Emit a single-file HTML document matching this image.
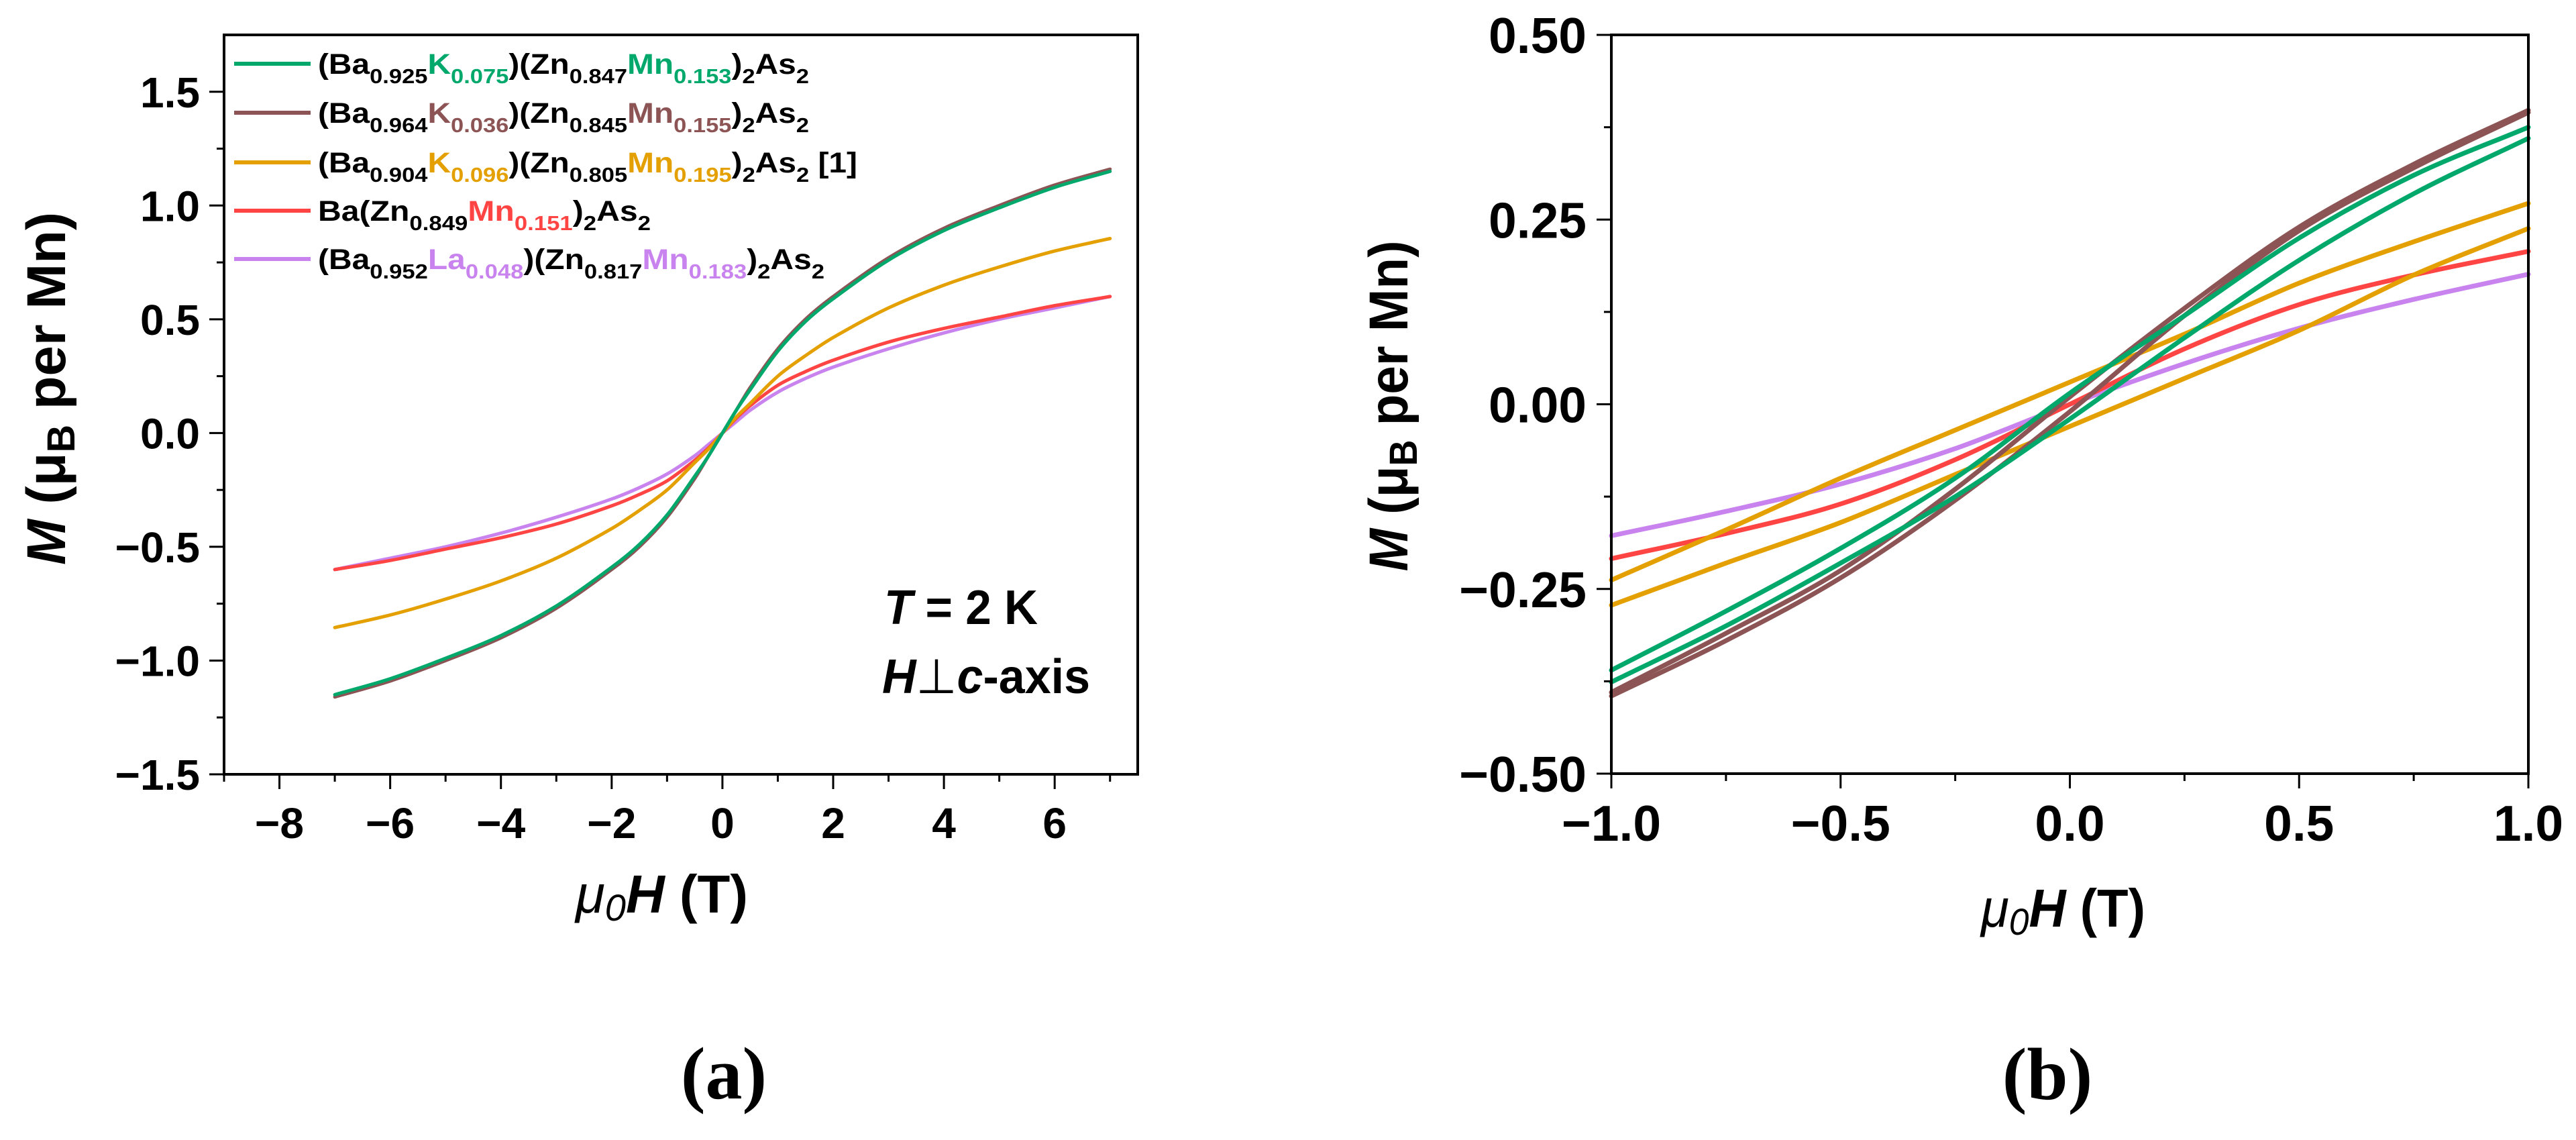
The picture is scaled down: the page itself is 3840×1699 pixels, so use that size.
<!DOCTYPE html>
<html><head><meta charset="utf-8"><style>
html,body{margin:0;padding:0;background:#fff;}
svg{display:block;}
text{font-family:"Liberation Sans",Arial,sans-serif;font-weight:bold;fill:#000;}
.serif{font-family:"Liberation Serif","Times New Roman",serif;}
</style></head><body>
<svg id="fig" width="3840" height="1699" viewBox="0 0 3840 1699" xmlns="http://www.w3.org/2000/svg">
<rect width="3840" height="1699" fill="#fff"/>
<g id="pa"></g>
<g id="pb"></g>

<g font-size="43">
  <line x1="349" y1="95" x2="463" y2="95" stroke="#00a86b" stroke-width="6"/>
  <text x="474" y="110" textLength="732" lengthAdjust="spacingAndGlyphs">(Ba<tspan font-size="31" dy="14">0.925</tspan><tspan dy="-14" fill="#00a86b">K</tspan><tspan font-size="31" dy="14" fill="#00a86b">0.075</tspan><tspan dy="-14">)(Zn</tspan><tspan font-size="31" dy="14">0.847</tspan><tspan dy="-14" fill="#00a86b">Mn</tspan><tspan font-size="31" dy="14" fill="#00a86b">0.153</tspan><tspan dy="-14">)</tspan><tspan font-size="31" dy="14">2</tspan><tspan dy="-14">As</tspan><tspan font-size="31" dy="14">2</tspan></text>
  <line x1="349" y1="168" x2="463" y2="168" stroke="#8c5454" stroke-width="6"/>
  <text x="474" y="183" textLength="732" lengthAdjust="spacingAndGlyphs">(Ba<tspan font-size="31" dy="14">0.964</tspan><tspan dy="-14" fill="#8c5454">K</tspan><tspan font-size="31" dy="14" fill="#8c5454">0.036</tspan><tspan dy="-14">)(Zn</tspan><tspan font-size="31" dy="14">0.845</tspan><tspan dy="-14" fill="#8c5454">Mn</tspan><tspan font-size="31" dy="14" fill="#8c5454">0.155</tspan><tspan dy="-14">)</tspan><tspan font-size="31" dy="14">2</tspan><tspan dy="-14">As</tspan><tspan font-size="31" dy="14">2</tspan></text>
  <line x1="349" y1="242" x2="463" y2="242" stroke="#e3a000" stroke-width="6"/>
  <text x="474" y="257" textLength="804" lengthAdjust="spacingAndGlyphs">(Ba<tspan font-size="31" dy="14">0.904</tspan><tspan dy="-14" fill="#e3a000">K</tspan><tspan font-size="31" dy="14" fill="#e3a000">0.096</tspan><tspan dy="-14">)(Zn</tspan><tspan font-size="31" dy="14">0.805</tspan><tspan dy="-14" fill="#e3a000">Mn</tspan><tspan font-size="31" dy="14" fill="#e3a000">0.195</tspan><tspan dy="-14">)</tspan><tspan font-size="31" dy="14">2</tspan><tspan dy="-14">As</tspan><tspan font-size="31" dy="14">2</tspan><tspan dy="-14"> [1]</tspan></text>
  <line x1="349" y1="314" x2="463" y2="314" stroke="#ff4444" stroke-width="6"/>
  <text x="474" y="329" textLength="496" lengthAdjust="spacingAndGlyphs">Ba(Zn<tspan font-size="31" dy="14">0.849</tspan><tspan dy="-14" fill="#ff4444">Mn</tspan><tspan font-size="31" dy="14" fill="#ff4444">0.151</tspan><tspan dy="-14">)</tspan><tspan font-size="31" dy="14">2</tspan><tspan dy="-14">As</tspan><tspan font-size="31" dy="14">2</tspan></text>
  <line x1="349" y1="386" x2="463" y2="386" stroke="#c883ee" stroke-width="6"/>
  <text x="474" y="401" textLength="755" lengthAdjust="spacingAndGlyphs">(Ba<tspan font-size="31" dy="14">0.952</tspan><tspan dy="-14" fill="#c883ee">La</tspan><tspan font-size="31" dy="14" fill="#c883ee">0.048</tspan><tspan dy="-14">)(Zn</tspan><tspan font-size="31" dy="14">0.817</tspan><tspan dy="-14" fill="#c883ee">Mn</tspan><tspan font-size="31" dy="14" fill="#c883ee">0.183</tspan><tspan dy="-14">)</tspan><tspan font-size="31" dy="14">2</tspan><tspan dy="-14">As</tspan><tspan font-size="31" dy="14">2</tspan></text>
</g>

<text x="1318" y="930" font-size="72" textLength="229" lengthAdjust="spacingAndGlyphs"><tspan font-style="italic">T</tspan> = 2 K</text>
<text x="1315" y="1033" font-size="72" textLength="310" lengthAdjust="spacingAndGlyphs"><tspan font-style="italic">H</tspan><tspan font-family="DejaVu Sans" font-weight="normal">⊥</tspan><tspan font-style="italic">c</tspan>-axis</text>

<text x="858" y="1360" font-size="80" textLength="257" lengthAdjust="spacingAndGlyphs"><tspan font-style="italic" font-weight="normal">μ</tspan><tspan font-style="italic" font-weight="normal" font-size="56" dy="12">0</tspan><tspan font-style="italic" dy="-12">H</tspan> (T)</text>
<text x="2953" y="1381" font-size="80" textLength="245" lengthAdjust="spacingAndGlyphs"><tspan font-style="italic" font-weight="normal">μ</tspan><tspan font-style="italic" font-weight="normal" font-size="56" dy="12">0</tspan><tspan font-style="italic" dy="-12">H</tspan> (T)</text>

<text transform="translate(97,579) rotate(-90)" text-anchor="middle" font-size="82" textLength="526" lengthAdjust="spacingAndGlyphs"><tspan font-style="italic">M</tspan> (μ<tspan font-size="58" dy="14">B</tspan><tspan dy="-14"> per Mn)</tspan></text>
<text transform="translate(2098,605) rotate(-90)" text-anchor="middle" font-size="82" textLength="493" lengthAdjust="spacingAndGlyphs"><tspan font-style="italic">M</tspan> (μ<tspan font-size="58" dy="14">B</tspan><tspan dy="-14"> per Mn)</tspan></text>

<text class="serif" x="1079" y="1637" text-anchor="middle" font-size="110">(a)</text>
<text class="serif" x="3052" y="1638" text-anchor="middle" font-size="110">(b)</text>
</svg>
<script>
// ---------- Panel (a) data ----------
const fieldA = [-7,-6,-5,-4,-3,-2,-1.5,-1,-0.5,-0.25,0,0.25,0.5,1,1.5,2,3,4,5,6,7];
const mK075 = [-1.15,-1.08,-0.99,-0.89,-0.76,-0.59,-0.49,-0.36,-0.19,-0.1,0,0.1,0.19,0.36,0.49,0.59,0.76,0.89,0.99,1.08,1.15];
const mK036 = [-1.16,-1.09,-1.0,-0.9,-0.77,-0.6,-0.5,-0.37,-0.2,-0.1,0,0.1,0.2,0.37,0.5,0.6,0.77,0.9,1.0,1.09,1.16];
const mK096 = [-0.855,-0.8,-0.73,-0.65,-0.55,-0.42,-0.34,-0.25,-0.13,-0.07,0,0.07,0.13,0.25,0.34,0.42,0.55,0.65,0.73,0.8,0.855];
const mUndoped = [-0.6,-0.56,-0.51,-0.46,-0.4,-0.32,-0.27,-0.21,-0.12,-0.065,0,0.065,0.12,0.21,0.27,0.32,0.4,0.46,0.51,0.56,0.6];
const mLa048 = [-0.6,-0.55,-0.5,-0.44,-0.37,-0.29,-0.24,-0.18,-0.1,-0.05,0,0.05,0.1,0.18,0.24,0.29,0.37,0.44,0.5,0.55,0.6];
const xTicksA = [-8,-6,-4,-2,0,2,4,6];
const xTickLabelsA = ["\u22128","\u22126","\u22124","\u22122","0","2","4","6"];
const yTicksA = [-1.5,-1.0,-0.5,0,0.5,1.0,1.5];
const yTickLabelsA = ["\u22121.5","\u22121.0","\u22120.5","0.0","0.5","1.0","1.5"];

// ---------- Panel (b) data ----------
const fieldB = [-1,-0.75,-0.5,-0.25,0,0.25,0.5,0.75,1];
const bK036Up = [-0.395,-0.32,-0.235,-0.13,-0.01,0.12,0.235,0.32,0.395];
const bK036Down = [-0.39,-0.31,-0.225,-0.115,0.01,0.13,0.24,0.325,0.398];
const bK075Up = [-0.376,-0.3,-0.215,-0.125,-0.02,0.09,0.195,0.285,0.36];
const bK075Down = [-0.36,-0.28,-0.195,-0.1,0.015,0.12,0.225,0.31,0.375];
const bK096Up = [-0.272,-0.215,-0.16,-0.095,-0.03,0.035,0.1,0.175,0.238];
const bK096Down = [-0.238,-0.17,-0.1,-0.035,0.03,0.095,0.164,0.22,0.272];
const bUndoped = [-0.209,-0.175,-0.135,-0.075,0,0.075,0.135,0.175,0.207];
const bLa048 = [-0.178,-0.145,-0.108,-0.06,0,0.055,0.103,0.142,0.176];
const xTicksB = [-1,-0.5,0,0.5,1];
const xTickLabelsB = ["\u22121.0","\u22120.5","0.0","0.5","1.0"];
const yTicksB = [-0.5,-0.25,0,0.25,0.5];
const yTickLabelsB = ["\u22120.50","\u22120.25","0.00","0.25","0.50"];

const NS = "http://www.w3.org/2000/svg";
function mk(tag, attrs, parent){ const e=document.createElementNS(NS,tag); for(const k in attrs) e.setAttribute(k,attrs[k]); parent.appendChild(e); return e; }

function smoothPath(xs, ys, sx, sy){
  const P = xs.map((x,i)=>[sx(x), sy(ys[i])]);
  const n = P.length;
  const m = P.map((p,i)=>{
    const a = P[Math.max(0,i-1)], b = P[Math.min(n-1,i+1)];
    return (b[1]-a[1])/(b[0]-a[0]);
  });
  let d = "M"+P[0][0].toFixed(1)+","+P[0][1].toFixed(1);
  for(let i=0;i<n-1;i++){
    const p1=P[i], p2=P[i+1], h=(p2[0]-p1[0])/3;
    d += " C"+(p1[0]+h).toFixed(1)+","+(p1[1]+m[i]*h).toFixed(1)+" "+(p2[0]-h).toFixed(1)+","+(p2[1]-m[i+1]*h).toFixed(1)+" "+p2[0].toFixed(1)+","+p2[1].toFixed(1);
  }
  return d;
}

function buildPanel(g, cfg){
  const {L,R,T,B,xmin,xmax,ymin,ymax} = cfg;
  const sx = v => L + (v-xmin)/(xmax-xmin)*(R-L);
  const sy = v => B - (v-ymin)/(ymax-ymin)*(B-T);
  cfg.series.forEach(s=>{
    const p = mk("path",{d:smoothPath(s.x,s.y,sx,sy),fill:"none",stroke:s.color,"stroke-width":cfg.lw,"stroke-linejoin":"round","stroke-linecap":"round"},g);
    
    
  });
  const fr = mk("rect",{x:L,y:T,width:R-L,height:B-T,fill:"none",stroke:"#000","stroke-width":4},g);
  
  
  cfg.xMinor.forEach(v=>{
    const t = mk("line",{x1:sx(v),x2:sx(v),y1:B,y2:B+11,stroke:"#000","stroke-width":3},g);
    
    
  });
  cfg.xTicks.forEach((v,i)=>{
    const t = mk("line",{x1:sx(v),x2:sx(v),y1:B,y2:B+22,stroke:"#000","stroke-width":3},g);
    
    
    const lb = mk("text",{x:sx(v),y:cfg.xLabelY,"text-anchor":"middle","font-size":cfg.tickFont},g);
    lb.textContent = cfg.xLabels[i];
    
    
  });
  cfg.yMinor.forEach(v=>{
    const t = mk("line",{x1:L-11,x2:L,y1:sy(v),y2:sy(v),stroke:"#000","stroke-width":3},g);
    
    
  });
  cfg.yTicks.forEach((v,i)=>{
    const t = mk("line",{x1:L-22,x2:L,y1:sy(v),y2:sy(v),stroke:"#000","stroke-width":3},g);
    
    
    const lb = mk("text",{x:cfg.yLabelX,y:sy(v)+cfg.tickFont*0.36,"text-anchor":"end","font-size":cfg.tickFont},g);
    lb.textContent = cfg.yLabels[i];
    
    
  });
}

const GREEN="#00a86b", BROWN="#8c5454", ORANGE="#e3a000", RED="#ff4444", PURPLE="#c883ee";

buildPanel(document.getElementById("pa"),{
  L:334,R:1696,T:52,B:1154,xmin:-9,xmax:7.5,ymin:-1.5,ymax:1.75,lw:5,tickFont:64,
  xLabelY:1249,yLabelX:298,
  xTicks:xTicksA,xLabels:xTickLabelsA,yTicks:yTicksA,yLabels:yTickLabelsA,
  xMinor:[-9,-7,-5,-3,-1,1,3,5,7],yMinor:[-1.25,-0.75,-0.25,0.25,0.75,1.25],
  series:[
    {name:"curve-la048",x:fieldA,y:mLa048,color:PURPLE},
    {name:"curve-undoped",x:fieldA,y:mUndoped,color:RED},
    {name:"curve-k096",x:fieldA,y:mK096,color:ORANGE},
    {name:"curve-k036",x:fieldA,y:mK036,color:BROWN},
    {name:"curve-k075",x:fieldA,y:mK075,color:GREEN}
  ]
});

buildPanel(document.getElementById("pb"),{
  L:2402,R:3769,T:52,B:1153,xmin:-1,xmax:1,ymin:-0.5,ymax:0.5,lw:7,tickFont:75,
  xLabelY:1253,yLabelX:2365,
  xTicks:xTicksB,xLabels:xTickLabelsB,yTicks:yTicksB,yLabels:yTickLabelsB,
  xMinor:[-0.75,-0.25,0.25,0.75],yMinor:[-0.375,-0.125,0.125,0.375],
  series:[
    {name:"loop-la048",x:fieldB,y:bLa048,color:PURPLE},
    {name:"loop-undoped",x:fieldB,y:bUndoped,color:RED},
    {name:"loop-k096-up",x:fieldB,y:bK096Up,color:ORANGE},
    {name:"loop-k096-down",x:fieldB,y:bK096Down,color:ORANGE},
    {name:"loop-k036-up",x:fieldB,y:bK036Up,color:BROWN},
    {name:"loop-k036-down",x:fieldB,y:bK036Down,color:BROWN},
    {name:"loop-k075-up",x:fieldB,y:bK075Up,color:GREEN},
    {name:"loop-k075-down",x:fieldB,y:bK075Down,color:GREEN}
  ]
});
</script>
</body></html>
